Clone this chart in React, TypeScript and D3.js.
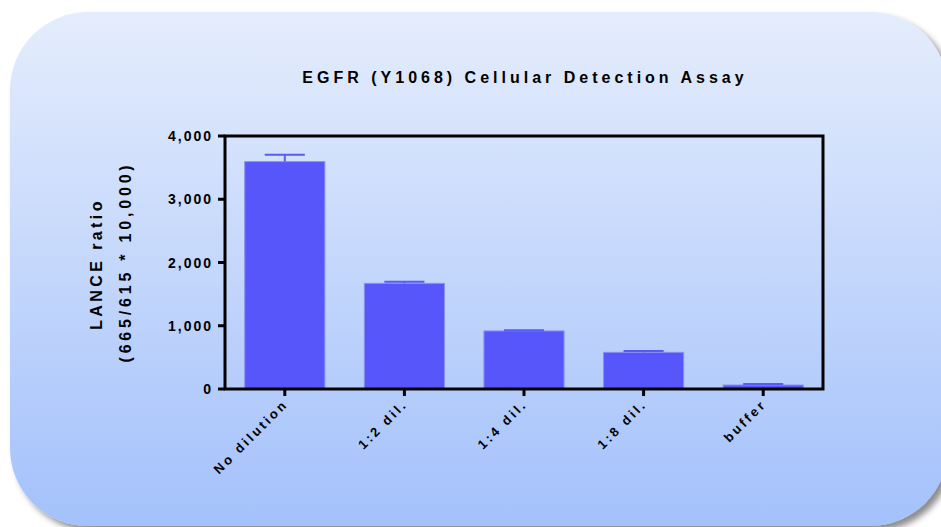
import React from "react";
import * as d3 from "d3";

const categories = ["No dilution", "1:2 dil.", "1:4 dil.", "1:8 dil.", "buffer"];
const means = [3595, 1670, 918, 580, 63];
const errors = [108, 26, 12, 20, 16];
const yTicks = [0, 1000, 2000, 3000, 4000];
const title = "EGFR (Y1068) Cellular Detection Assay";
const yLabel1 = "LANCE ratio";
const yLabel2 = "(665/615 * 10,000)";

const W = 941;
const H = 527;
const plot = { left: 225, right: 823, top: 136, bottom: 389 };
const FONT = "'Liberation Sans', Arial, sans-serif";

export default function App() {
  const x = d3
    .scaleBand<string>()
    .domain(categories)
    .range([plot.left, plot.right])
    .paddingInner(0.33)
    .paddingOuter(0.165);
  const y = d3.scaleLinear().domain([0, 4000]).range([plot.bottom, plot.top]);
  const fmt = d3.format(",");
  const bw = x.bandwidth();

  return (
    <svg
      width={W}
      height={H}
      style={{ position: "absolute", left: 0, top: 0, display: "block" }}
    >
      <defs>
        <linearGradient id="bg" x1="0" y1="0" x2="0" y2="1">
          <stop offset="0" stopColor="#e5edfc" />
          <stop offset="1" stopColor="#a3c1fb" />
        </linearGradient>
        <filter id="sh" x="-5%" y="-5%" width="115%" height="115%">
          <feDropShadow dx="5" dy="5" stdDeviation="3" floodColor="#000" floodOpacity="0.45" />
        </filter>
      </defs>
      <rect x={0} y={0} width={W} height={H} fill="#ffffff" />
      <rect
        x={10}
        y={12}
        width={938}
        height={514}
        rx={78}
        ry={78}
        fill="url(#bg)"
        filter="url(#sh)"
      />

      <text
        x={525}
        y={83}
        textAnchor="middle"
        fontFamily={FONT}
        fontWeight="bold"
        fontSize={16}
        letterSpacing={4}
        fill="#000"
      >
        {title}
      </text>

      {/* bars */}
      {categories.map((c, i) => {
        const x0 = x(c)!;
        const cx = x0 + bw / 2;
        return (
          <g key={c}>
            <rect
              x={x0}
              y={y(means[i])}
              width={bw}
              height={y(0) - y(means[i])}
              fill="#5656fb"
              stroke="#8c8ef2"
              strokeWidth={1}
            />
            <line
              x1={cx}
              x2={cx}
              y1={y(means[i])}
              y2={y(means[i] + errors[i])}
              stroke="#5a5af5"
              strokeWidth={2}
            />
            <line
              x1={cx - bw / 4}
              x2={cx + bw / 4}
              y1={y(means[i] + errors[i])}
              y2={y(means[i] + errors[i])}
              stroke="#5a5af5"
              strokeWidth={2}
            />
          </g>
        );
      })}

      {/* frame */}
      <rect
        x={plot.left}
        y={plot.top}
        width={plot.right - plot.left}
        height={plot.bottom - plot.top}
        fill="none"
        stroke="#000"
        strokeWidth={3}
      />

      {/* y ticks */}
      {yTicks.map((t) => (
        <g key={t}>
          <line x1={plot.left - 7} x2={plot.left} y1={y(t)} y2={y(t)} stroke="#000" strokeWidth={3} />
          <text
            x={plot.left - 12}
            y={y(t)}
            dy="0.36em"
            textAnchor="end"
            fontFamily={FONT}
            fontWeight="bold"
            fontSize={14}
            letterSpacing={2}
            fill="#000"
          >
            {fmt(t)}
          </text>
        </g>
      ))}

      {/* x ticks and labels */}
      {categories.map((c) => {
        const cx = x(c)! + bw / 2;
        return (
          <g key={c}>
            <line x1={cx} x2={cx} y1={plot.bottom} y2={plot.bottom + 7} stroke="#000" strokeWidth={3} />
            <text
              transform={`translate(${cx + 4},${plot.bottom + 16}) rotate(-45)`}
              textAnchor="end"
              fontFamily={FONT}
              fontWeight="bold"
              fontSize={13}
              letterSpacing={2.8}
              fill="#000"
            >
              {c}
            </text>
          </g>
        );
      })}

      {/* y label */}
      <text
        transform={`translate(102,${264}) rotate(-90)`}
        textAnchor="middle"
        fontFamily={FONT}
        fontWeight="bold"
        fontSize={16}
        letterSpacing={3.4}
        fill="#000"
      >
        {yLabel1}
      </text>
      <text
        transform={`translate(131,${262}) rotate(-90)`}
        textAnchor="middle"
        fontFamily={FONT}
        fontWeight="bold"
        fontSize={16}
        letterSpacing={3.8}
        fill="#000"
      >
        {yLabel2}
      </text>
    </svg>
  );
}
